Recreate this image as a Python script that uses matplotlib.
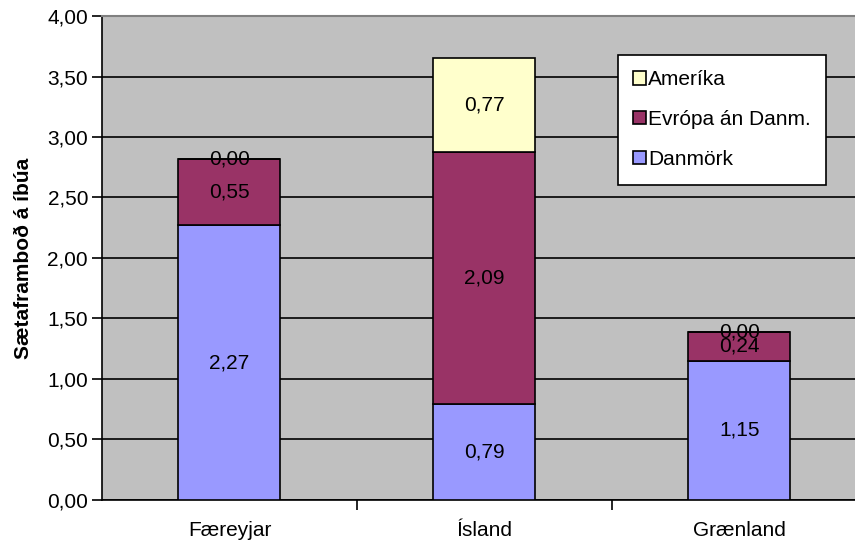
import matplotlib.pyplot as plt
from matplotlib.ticker import FuncFormatter
import numpy as np

plt.rcParams['font.family'] = ['Liberation Sans', 'DejaVu Sans']

# Sætaframboð á íbúa eftir svæðum
lond = ['Færeyjar', 'Ísland', 'Grænland']
danmork = [2.27, 0.79, 1.15]
evropa = [0.55, 2.09, 0.24]
amerika = [0.00, 0.77, 0.00]

series = [('Danmörk', danmork, '#9999FF'),
          ('Evrópa án Danm.', evropa, '#993366'),
          ('Ameríka', amerika, '#FFFFCC')]

FS = 15

fig = plt.figure(figsize=(8.55, 5.48), dpi=100)
ax = fig.add_axes([0.1193, 0.0876, 0.8947, 0.8832])
ax.set_facecolor('#C0C0C0')

x = np.arange(len(lond))
bottom = np.zeros(len(lond))
for name, vals, col in series:
    vals = np.array(vals)
    ax.bar(x, vals, width=0.4, bottom=bottom, color=col, edgecolor='black',
           linewidth=1.2, label=name, zorder=3)
    for xi, b, v in zip(x, bottom, vals):
        ax.text(xi, b + v / 2, f'{v:.2f}'.replace('.', ','), ha='center',
                va='center', fontsize=FS, zorder=4)
    bottom += vals

ax.set_xlim(-0.5, 2.5)
ax.set_ylim(0, 4)
ax.set_yticks(np.arange(0, 4.01, 0.5))
ax.yaxis.set_major_formatter(FuncFormatter(lambda v, p: f'{v:.2f}'.replace('.', ',')))
ax.grid(axis='y', color='black', linewidth=1.2, zorder=1)
ax.set_xticks(x)
ax.set_xticklabels(lond)
ax.set_xticks([0.5, 1.5], minor=True)
ax.tick_params(axis='x', which='major', length=0, pad=15, labelsize=FS)
ax.tick_params(axis='x', which='minor', length=7, width=1.2, direction='out')
ax.tick_params(axis='y', length=7, width=1.2, labelsize=FS, pad=3)

ax.spines['top'].set_color('#808080')
ax.spines['top'].set_linewidth(1.5)
for s in ['left', 'bottom']:
    ax.spines[s].set_linewidth(1.2)
ax.spines['right'].set_visible(False)

ax.set_ylabel('Sætaframboð á íbúa', fontsize=FS, fontweight='bold', labelpad=10)

handles, labels = ax.get_legend_handles_labels()
leg = ax.legend(handles[::-1], labels[::-1], loc='upper left',
                bbox_to_anchor=(0.674, 0.92), fontsize=FS, frameon=True,
                fancybox=False, edgecolor='black', framealpha=1,
                handlelength=0.6, handleheight=0.6, handletextpad=0.1,
                labelspacing=1.0, borderpad=0.75, borderaxespad=0)
leg.get_frame().set_linewidth(1.2)
leg.set_zorder(5)

fig.savefig('out.png', dpi=100)
